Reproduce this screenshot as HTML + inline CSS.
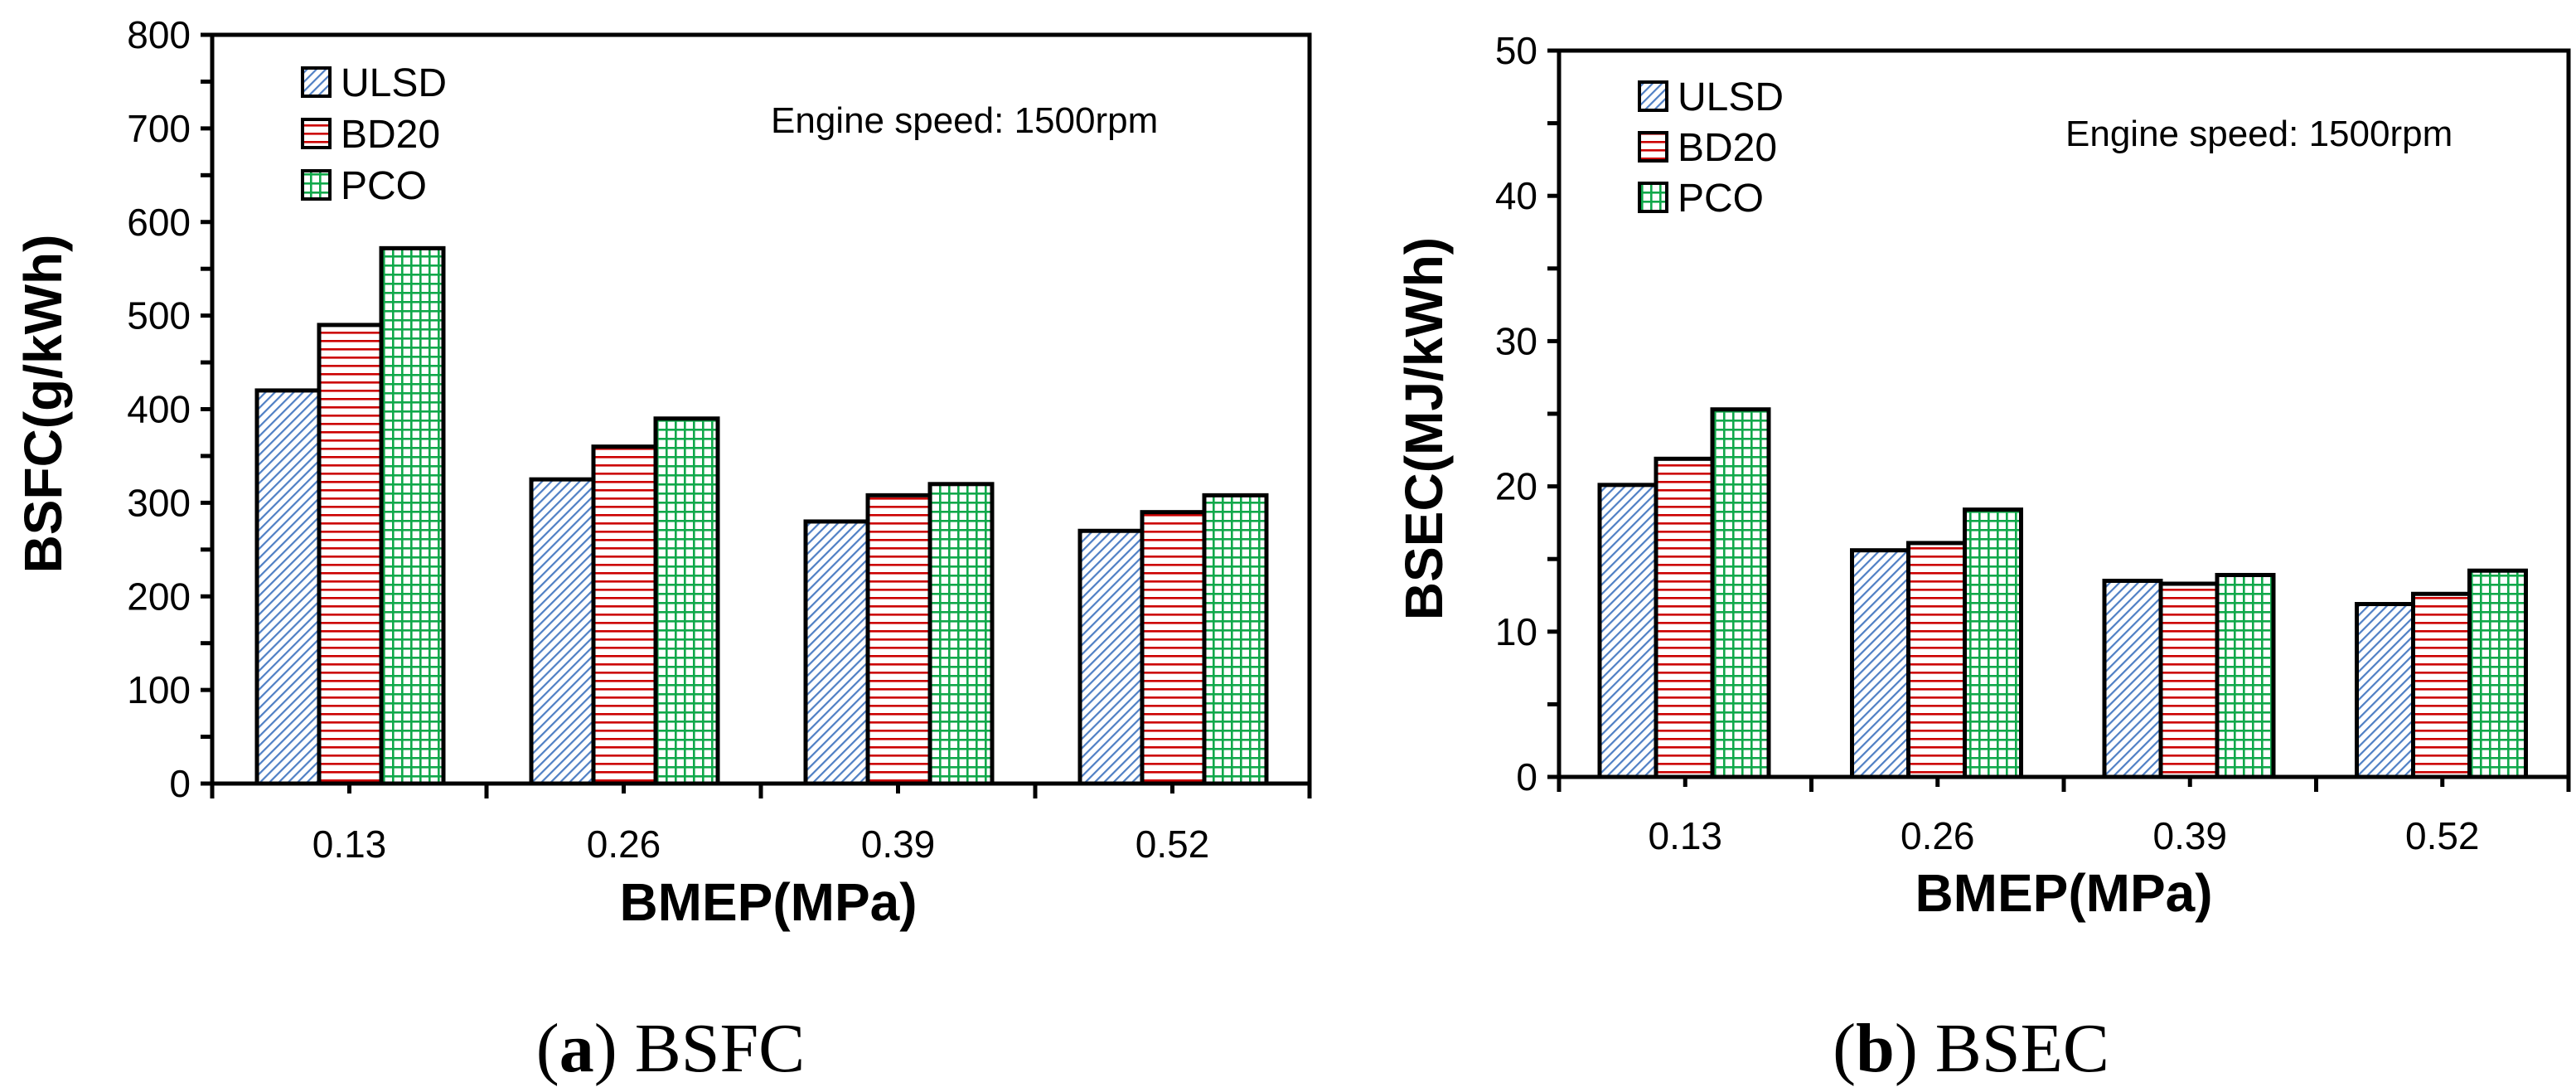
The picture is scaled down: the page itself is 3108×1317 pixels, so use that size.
<!DOCTYPE html>
<html><head><meta charset="utf-8"><style>
html,body{margin:0;padding:0;background:#fff;width:3108px;height:1317px;overflow:hidden}
svg{display:block}
.sans{font-family:"Liberation Sans",sans-serif}
.serif{font-family:"Liberation Serif",serif}
</style></head><body>
<svg id="fig" width="3108" height="1317" viewBox="0 0 3108 1317" xmlns="http://www.w3.org/2000/svg">
<defs>
<pattern id="pULSD" patternUnits="userSpaceOnUse" width="8" height="8" patternTransform="rotate(45)"><rect width="8" height="8" fill="#fff"/><rect x="0" y="0" width="2.2" height="8" fill="#4f7fc4"/></pattern>
<pattern id="pBD20" patternUnits="userSpaceOnUse" width="10" height="10"><rect width="10" height="10" fill="#fff"/><rect x="0" y="0" width="10" height="2.6" fill="#cc0000"/></pattern>
<pattern id="pPCO" patternUnits="userSpaceOnUse" width="11" height="11"><rect width="11" height="11" fill="#fff"/><rect x="0" y="0" width="11" height="2.6" fill="#10a84a"/><rect x="0" y="0" width="2.6" height="11" fill="#10a84a"/></pattern>
</defs>
</svg>
<script>
const categories = ["0.13","0.26","0.39","0.52"];
const seriesNames = ["ULSD","BD20","PCO"];
const bsfcULSD = [420,325,280,270];
const bsfcBD20 = [490,360,308,290];
const bsfcPCO = [572,390,320,308];
const bsecULSD = [20.1,15.6,13.5,11.9];
const bsecBD20 = [21.9,16.1,13.3,12.6];
const bsecPCO = [25.3,18.4,13.9,14.2];
const bsfcTicks = [0,100,200,300,400,500,600,700,800];
const bsecTicks = [0,10,20,30,40,50];

const svg = document.getElementById('fig');
const NS = 'http://www.w3.org/2000/svg';
function mk(tag, attrs, txt){const e=document.createElementNS(NS,tag);for(const k in attrs)e.setAttribute(k,attrs[k]);if(txt!==undefined)e.textContent=txt;svg.appendChild(e);return e;}

function chart(c){
  const yMax=c.ticks[c.ticks.length-1];
  const y=v=>c.bottom-(v/yMax)*(c.bottom-c.top);
  const x=i=>c.x0+i*c.catW;
  const right=x(categories.length);
  let e;
  e=mk('rect',{x:c.x0,y:c.top,width:right-c.x0,height:c.bottom-c.top,fill:'none',stroke:'#000','stroke-width':5});
  
  
  for(let i=0;i<c.ticks.length;i++){
    const v=c.ticks[i];
    e=mk('line',{x1:c.x0-14,x2:c.x0,y1:y(v),y2:y(v),stroke:'#000','stroke-width':5});
    
    
    if(i<c.ticks.length-1){
      const m=(v+c.ticks[i+1])/2;
      e=mk('line',{x1:c.x0-14,x2:c.x0,y1:y(m),y2:y(m),stroke:'#000','stroke-width':5});
      
      
    }
    e=mk('text',{class:'sans',x:c.x0-26,y:y(v)+16,'text-anchor':'end','font-size':46,fill:'#000'},String(v));
    
    
  }
  for(let i=0;i<=categories.length;i++){
    e=mk('line',{x1:x(i),x2:x(i),y1:c.bottom,y2:c.bottom+18,stroke:'#000','stroke-width':5});
    
    
  }
  const series=[c.s1,c.s2,c.s3];
  const fills=['url(#pULSD)','url(#pBD20)','url(#pPCO)'];
  for(let i=0;i<categories.length;i++){
    const cx=x(i)+c.catW/2;
    e=mk('line',{x1:cx,x2:cx,y1:c.bottom,y2:c.bottom+12,stroke:'#000','stroke-width':5});
    
    
    e=mk('text',{class:'sans',x:cx,y:c.labelY,'text-anchor':'middle','font-size':46,fill:'#000'},categories[i]);
    
    
    for(let s=0;s<3;s++){
      const v=series[s][i];
      const bx=x(i)+c.off+s*c.barW;
      e=mk('rect',{x:bx,y:y(v),width:c.barW,height:c.bottom-y(v),fill:fills[s],stroke:'#000','stroke-width':5});
      
      
    }
  }
  e=mk('line',{x1:c.x0-14,x2:right,y1:c.bottom,y2:c.bottom,stroke:'#000','stroke-width':5});
  
  
  for(let s=0;s<3;s++){
    const ly=c.legY+s*c.legDy;
    e=mk('rect',{x:c.legX,y:ly-17,width:33,height:34,fill:fills[s],stroke:'#000','stroke-width':4});
    
    
    e=mk('text',{class:'sans',x:c.legX+46,y:ly+17,'font-size':48,fill:'#000'},seriesNames[s]);
    
    
  }
  e=mk('text',{class:'sans',x:c.noteX,y:c.noteY,'font-size':44,fill:'#000'},'Engine speed:  1500rpm');
  
  
  e=mk('text',{class:'sans',x:c.ytX,y:c.ytY,'text-anchor':'middle','font-size':64,'font-weight':'bold',fill:'#000',transform:'rotate(-90 '+c.ytX+' '+c.ytY+')'},c.yTitle);
  
  
  e=mk('text',{class:'sans',x:c.xtX,y:c.xtY,'text-anchor':'middle','font-size':64,'font-weight':'bold',fill:'#000'},'BMEP(MPa)');
  
  
  e=mk('text',{class:'serif',x:c.capX,y:1292,'text-anchor':'middle','font-size':84,fill:'#000'},'');
  
  
  e.innerHTML='(<tspan font-weight="bold">'+c.capL+'</tspan>) '+c.capT;
}

chart({id:'bsfc',ticks:bsfcTicks,s1:bsfcULSD,s2:bsfcBD20,s3:bsfcPCO,x0:256,catW:331,top:42,bottom:945,off:54,barW:75,labelY:1034,
  legX:365,legY:99,legDy:62,noteX:930,noteY:160,ytX:74,ytY:487,yTitle:'BSFC(g/kWh)',xtX:927,xtY:1110,capX:809,capL:'a',capT:'BSFC'});
chart({id:'bsec',ticks:bsecTicks,s1:bsecULSD,s2:bsecBD20,s3:bsecPCO,x0:1881,catW:304.5,top:61,bottom:937,off:49,barW:68,labelY:1024,
  legX:1978,legY:116,legDy:61,noteX:2492,noteY:176,ytX:1740,ytY:517,yTitle:'BSEC(MJ/kWh)',xtX:2490,xtY:1099,capX:2378,capL:'b',capT:'BSEC'});
</script>
</body></html>
